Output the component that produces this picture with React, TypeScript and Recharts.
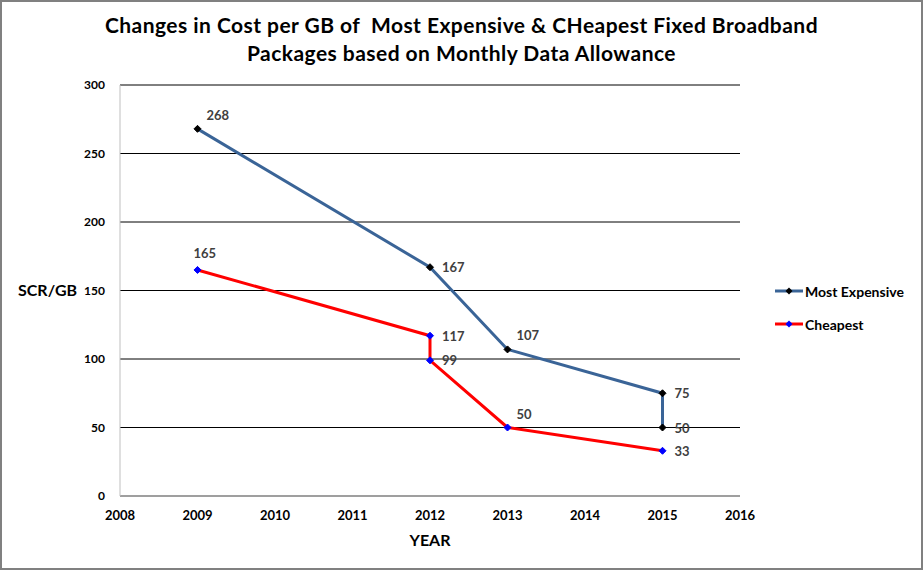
import React from "react";
import {
  LineChart,
  Line,
  XAxis,
  YAxis,
  CartesianGrid,
  Label,
  LabelList,
} from "recharts";

// Most Expensive package, cost per GB (SCR)
const expensiveYears = [2009, 2012, 2013, 2015, 2015];
const expensiveCost = [268, 167, 107, 75, 50];
// Cheapest package, cost per GB (SCR)
const cheapestYears = [2009, 2012, 2012, 2013, 2015];
const cheapestCost = [165, 117, 99, 50, 33];

const xTicks = [2008, 2009, 2010, 2011, 2012, 2013, 2014, 2015, 2016];
const yTicks = [0, 50, 100, 150, 200, 250, 300];

// where each data label sits relative to its point
const expensivePlace = ["upRight", "right", "upRight", "right", "right"];
const cheapestPlace = ["above", "right", "right", "upRight", "right"];

const expensiveData = expensiveYears.map((year, i) => ({ year, cost: expensiveCost[i] }));
const cheapestData = cheapestYears.map((year, i) => ({ year, cost: cheapestCost[i] }));

const FONT = "Lato, 'Open Sans', sans-serif";
const BLUE = "#3A6497";
const RED = "#FF0000";

const Diamond = ({ cx, cy, fill }: any) => {
  if (cx == null || cy == null) return null;
  const r = 3.5;
  return <path d={`M${cx},${cy - r}L${cx + r},${cy}L${cx},${cy + r}L${cx - r},${cy}Z`} fill={fill} stroke={fill} />;
};

const makeLabel = (places: string[]) => (props: any) => {
  const { x, y, value, index } = props;
  const place = places[index];
  let tx = x + 12;
  let ty = y + 5;
  if (place === "upRight") {
    tx = x + 9;
    ty = y - 9;
  } else if (place === "above") {
    tx = x - 4;
    ty = y - 12;
  }
  return (
    <text x={tx} y={ty} fontSize={13} fontWeight="bold" fill="#404040" fontFamily={FONT}>
      {value}
    </text>
  );
};

const LegendBox = () => (
  <div style={{ fontFamily: FONT, fontSize: 14, fontWeight: "bold", color: "#000" }}>
    {[
      { name: "Most Expensive", line: BLUE, dot: "#000" },
      { name: "Cheapest", line: RED, dot: "#0000FF" },
    ].map((item, i) => (
      <div key={item.name} style={{ display: "flex", alignItems: "center", height: 18, marginTop: i ? 15 : 0 }}>
        <svg width={30} height={10}>
          <line x1={0} y1={5} x2={28} y2={5} stroke={item.line} strokeWidth={3} />
          <path d="M14,1.5L17.5,5L14,8.5L10.5,5Z" fill={item.dot} />
        </svg>
        <span>{item.name}</span>
      </div>
    ))}
  </div>
);

export default function App() {
  return (
    <div
      style={{
        position: "absolute",
        left: 0,
        top: 0,
        width: 923,
        height: 570,
        boxSizing: "border-box",
        border: "2px solid #808080",
        background: "#fff",
      }}
    >
      <div
        style={{
          position: "absolute",
          left: 0,
          top: 9,
          width: 919,
          textAlign: "center",
          fontFamily: FONT,
          fontWeight: "bold",
          fontSize: 21,
          letterSpacing: 0.45,
          lineHeight: "28px",
          color: "#000",
        }}
      >
        Changes in Cost per GB of&nbsp; Most Expensive &amp; CHeapest Fixed Broadband
        <br />
        Packages based on Monthly Data Allowance
      </div>
      <div style={{ position: "absolute", left: 773, top: 280 }}>
        <LegendBox />
      </div>
      <div style={{ position: "absolute", left: -2, top: -2 }}>
        <LineChart width={923} height={570} margin={{ top: 85, right: 183, bottom: 44, left: 10 }}>
          <CartesianGrid vertical={false} stroke="#000" />
          <XAxis
            type="number"
            dataKey="year"
            domain={[2008, 2016]}
            ticks={xTicks}
            allowDuplicatedCategory={false}
            tickLine={false}
            axisLine={{ stroke: "#BFBFBF" }}
            tickMargin={9}
            tick={{ fontSize: 13, fontWeight: "bold", fill: "#000", fontFamily: FONT }}
            interval={0}
          >
            <Label
              value="YEAR"
              position="bottom"
              offset={9}
              style={{ fontSize: 16, fontWeight: "bold", fill: "#000", fontFamily: FONT }}
            />
          </XAxis>
          <YAxis
            type="number"
            domain={[0, 300]}
            ticks={yTicks}
            width={110}
            tickLine={false}
            axisLine={{ stroke: "#BFBFBF" }}
            tickMargin={9}
            tick={{ fontSize: 12, fontWeight: "bold", fill: "#000", fontFamily: FONT }}
          >
            <Label
              value="SCR/GB"
              position="insideLeft"
              offset={8}
              style={{ fontSize: 16, fontWeight: "bold", fill: "#000", fontFamily: FONT }}
            />
          </YAxis>
          <Line
            data={expensiveData}
            dataKey="cost"
            name="Most Expensive"
            type="linear"
            stroke={BLUE}
            strokeWidth={3}
            dot={<Diamond fill="#000" />}
            activeDot={false}
            isAnimationActive={false}
          >
            <LabelList dataKey="cost" content={makeLabel(expensivePlace)} />
          </Line>
          <Line
            data={cheapestData}
            dataKey="cost"
            name="Cheapest"
            type="linear"
            stroke={RED}
            strokeWidth={3}
            dot={<Diamond fill="#0000FF" />}
            activeDot={false}
            isAnimationActive={false}
          >
            <LabelList dataKey="cost" content={makeLabel(cheapestPlace)} />
          </Line>
        </LineChart>
      </div>
    </div>
  );
}
